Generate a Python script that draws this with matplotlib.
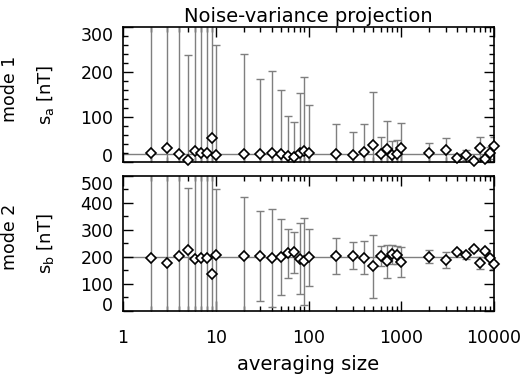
# Import libraries
import numpy as np
import matplotlib.pyplot as plt
from matplotlib.ticker import LogLocator, NullFormatter, FixedLocator, FixedFormatter

# Averaging sizes (x values)
size = [2, 3, 4, 5, 6, 7, 8, 9, 10,
        20, 30, 40, 50, 60, 70, 80, 90, 100,
        200, 300, 400, 500, 600, 700, 800, 900, 1000,
        2000, 3000, 4000, 5000, 6000, 7000, 8000, 9000, 10000]

# mode 1 estimates and errors [nT]
sa = [19.5, 31.5, 18, 5, 24, 21, 21, 54, 15,
      19, 17, 21, 19, 13.5, 11, 21, 25.5, 20,
      17, 16.5, 22.5, 39, 17, 28.5, 16, 18, 31,
      19.4, 26.7, 9, 15.6, 2, 32, 6, 20.8, 36]
sa_err = [800, 800, 800, 233, 800, 800, 800, 800, 245,
          222, 167, 183, 141, 90, 79, 134, 165, 107,
          68, 51, 63, 117, 39, 63, 30, 31, 57,
          22, 28, 8, 11, 6, 23, 7, 13, 20]
sa_true = 19

# mode 2 estimates and errors [nT]
sb = [197, 177, 203, 226.5, 192, 197, 195.5, 137, 208,
      202, 203, 197, 199, 214, 216.5, 193, 183, 198,
      202, 204, 197, 164.6, 203, 183, 209, 206.7, 180.7,
      200.5, 188, 219, 205.4, 229, 177, 221.5, 197, 172]
sb_err = [800, 800, 800, 230, 800, 800, 800, 800, 244,
          219, 166, 182, 141, 91, 77, 131, 161, 106,
          67, 50, 62, 116, 38, 62, 34, 33, 57,
          23, 28, 7, 12, 5, 24, 6, 8, 16]
sb_true = 200

xticks = [1, 10, 100, 1000, 10000]
xticklabels = ['1', '10', '100', '1000', '10000']
ya_ticks = [0, 100, 200, 300]
yb_ticks = [0, 100, 200, 300, 400, 500]

plt.rcParams['font.family'] = 'DejaVu Sans'
plt.rcParams['mathtext.fontset'] = 'dejavusans'

fig = plt.figure(figsize=(5.29, 3.76), dpi=100)
ax1 = fig.add_axes([0.2325, 0.569, 0.7015, 0.358])
ax2 = fig.add_axes([0.2325, 0.1737, 0.7015, 0.3583])

gray = '#7f7f7f'


def panel(ax, y, err, ytrue, yticks, minor, ylabel, mode):
    ax.axhline(ytrue, color=gray, lw=1.0, zorder=1)
    ax.errorbar(size, y, yerr=err, fmt='none', ecolor=gray, elinewidth=1.0,
                capsize=3, capthick=1.0, zorder=2)
    ax.plot(size, y, 'D', ms=4.8, mfc='white', mec='black', mew=1.2,
            zorder=3, clip_on=False)
    ax.set_xscale('log')
    ax.set_xlim(1, 10000)
    ax.set_ylim(yticks[0], yticks[-1])
    ax.yaxis.set_major_locator(FixedLocator(yticks))
    ax.yaxis.set_minor_locator(FixedLocator(np.arange(yticks[0], yticks[-1], minor)))
    ax.xaxis.set_major_locator(FixedLocator(xticks))
    ax.xaxis.set_minor_locator(LogLocator(base=10, subs=np.arange(2, 10), numticks=20))
    ax.xaxis.set_minor_formatter(NullFormatter())
    ax.tick_params(which='both', direction='in', top=True, right=True,
                   labelsize=12.5, width=1.0)
    ax.tick_params(axis='y', pad=7)
    ax.tick_params(which='major', length=7)
    ax.tick_params(which='minor', length=3.5)
    for s in ax.spines.values():
        s.set_linewidth(1.2)
    ax.set_ylabel(ylabel, fontsize=13)
    ax.yaxis.set_label_coords(-0.18, 0.5)
    ax.text(-0.305, 0.545, mode, rotation=90, transform=ax.transAxes,
            ha='center', va='center', fontsize=12.5)


panel(ax1, sa, sa_err, sa_true, ya_ticks, 20,
      r'$\mathregular{s_a}$ [nT]', 'mode 1')
panel(ax2, sb, sb_err, sb_true, yb_ticks, 50,
      r'$\mathregular{s_b}$ [nT]', 'mode 2')

ax1.xaxis.set_major_formatter(NullFormatter())
ax2.xaxis.set_major_formatter(FixedFormatter(xticklabels))
ax2.tick_params(axis='x', pad=13)
ax2.set_xlabel('averaging size', fontsize=14, labelpad=6)
ax1.set_title('Noise-variance projection', fontsize=14, pad=4)

# keep edge labels inside the frame
fig.canvas.draw()
for ax, ticks in ((ax1, ya_ticks), (ax2, yb_ticks)):
    for t in ax.yaxis.get_major_ticks():
        if t.get_loc() == ticks[0]:
            t.label1.set_va('baseline')
        elif t.get_loc() == ticks[-1]:
            t.label1.set_va('top')

plt.savefig('out.png', dpi=100)
